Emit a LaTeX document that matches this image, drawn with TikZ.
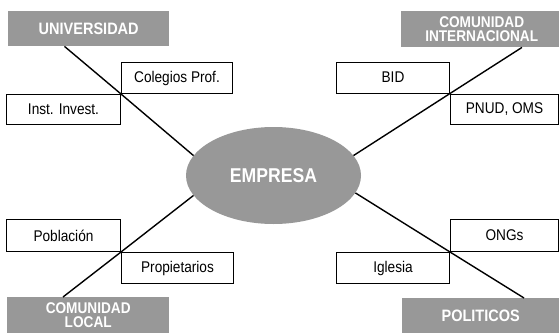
\documentclass[tikz,border=0pt]{standalone}
\usepackage{fontspec}
\newfontfamily\condfont{Liberation Sans}[FakeStretch=0.88]
\usepackage{tikz}
\usetikzlibrary{calc}
\usetikzlibrary{positioning}
\usetikzlibrary{shapes}
\definecolor{boxgray}{RGB}{152,152,152}
\begin{document}
\begin{tikzpicture}[x=1pt,y=-1pt,node distance=0pt,
		actor/.style={rectangle,fill=boxgray,text=white,inner sep=0pt,align=center,anchor=north west,
			font=\condfont\bfseries\fontsize{16.5}{14}\selectfont},
		twoline/.style={font=\condfont\bfseries\fontsize{15.5}{14}\selectfont},
		member/.style={rectangle,draw=black,line width=1pt,inner sep=0pt,minimum height=31pt,
			font=\condfont\fontsize{15.5}{17}\selectfont},
		link/.style={draw=black,line width=1.4pt}]
		\useasboundingbox (0,0) rectangle (559,332);
		
		\node[ellipse,fill=boxgray,text=white,inner sep=0pt,minimum width=175pt,minimum height=97pt,
			font=\condfont\bfseries\fontsize{20}{24}\selectfont] (emp) at (273.5,175.5) {EMPRESA};
		
		\node[actor,minimum width=161pt,minimum height=35pt] (uni)  at (8,11)    {UNIVERSIDAD};
		\node[actor,twoline,minimum width=161pt,minimum height=36pt] (intl) at (401,11)  {COMUNIDAD\\INTERNACIONAL};
		\node[actor,twoline,minimum width=162pt,minimum height=36pt] (loc)  at (7,297)   {COMUNIDAD\\LOCAL};
		\node[actor,minimum width=157pt,minimum height=36pt] (pol)  at (402,298) {POLITICOS};
		
		\coordinate (xu) at (121,94);
		\coordinate (xi) at (450,93.5);
		\coordinate (xl) at (121,252);
		\coordinate (xp) at (450,252);
		
		\node[member,minimum width=111pt] (colegios) [above right=of xu] {Colegios Prof.};
		\node[member,minimum width=114pt,minimum height=30pt] (inst) [below left=of xu] {Inst. Invest.};
		\node[member,minimum width=113pt] (bid) [above left=of xi] {BID};
		\node[member,minimum width=108pt,minimum height=30.5pt] (pnud) [below right=of xi] {PNUD, OMS};
		\node[member,minimum width=114pt,minimum height=32pt] (poblacion) [above left=of xl] {Población};
		\node[member,minimum width=112pt] (propietarios) [below right=of xl] {Propietarios};
		\node[member,minimum width=108pt,minimum height=32pt] (ongs) [above right=of xp] {ONGs};
		\node[member,minimum width=113pt] (iglesia) [below left=of xp] {Iglesia};
		
		\draw[link] ($(uni.south west)+(56.5,0)$) -- (xu) -- (emp.166);
		\draw[link] ($(intl.south west)+(121,0)$) -- (xi) -- (emp.14);
		\draw[link] ($(loc.north west)+(56,0)$) -- (xl) -- (emp.194);
		\draw[link] ($(pol.north west)+(122,0)$) -- (xp) -- (emp.-12);
\end{tikzpicture}
\end{document}
